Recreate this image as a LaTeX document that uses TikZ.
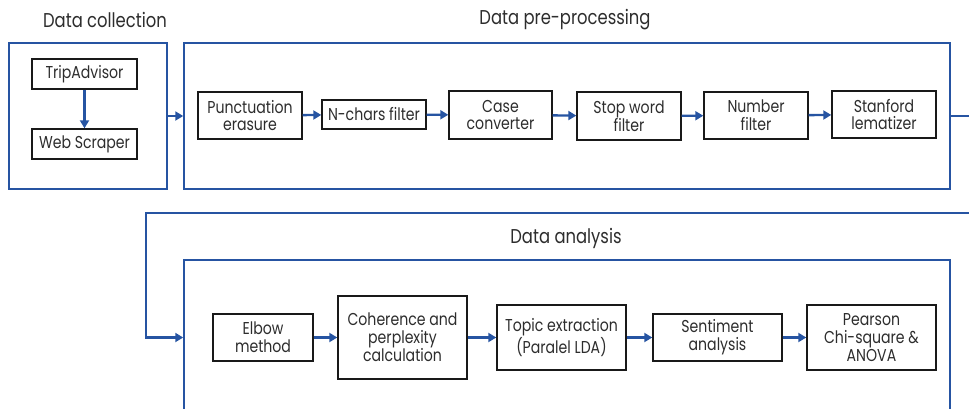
\documentclass[tikz,border=0pt]{standalone}
\usepackage{fontspec}
\setmainfont{Poppins}[FakeStretch=0.82]
\usetikzlibrary{arrows.meta}
\definecolor{lineblue}{RGB}{38,84,162}
\definecolor{textgrey}{RGB}{45,45,45}
\tikzset{
  box/.style={draw=black!90, line width=1.4pt, fill=white, align=center, inner sep=1pt,
    font=\fontsize{17.2}{17.8}\selectfont, text=textgrey},
  outer/.style={draw=lineblue, line width=1.5pt, inner sep=0pt},
  title/.style={font=\fontsize{20}{22}\selectfont, text=textgrey},
  flow/.style={draw=lineblue, line width=2.4pt, -{Triangle[length=8pt,width=9pt]}},
  link/.style={draw=lineblue, line width=2.4pt}
}
\begin{document}
\begin{tikzpicture}[x=1pt,y=-1pt]
\useasboundingbox (0,0) rectangle (969,408);
% outer boxes
\node[outer, minimum width=158pt, minimum height=146pt] (coll) at (88,116) {};
\node[outer, minimum width=766pt, minimum height=146pt] (pre) at (567,116) {};
\node[outer, minimum width=766pt, minimum height=170pt] (ana) at (567,345) {};
% titles
\node[title] (tcoll) at (105,20) {Data collection};
\node[title] (tpre) at (565,20) {Data pre-processing};
\node[title] (tana) at (566,238) {Data analysis};
% collection
\node[box, minimum width=105pt, minimum height=30pt] (trip) at (84.5,74) {TripAdvisor};
\node[box, minimum width=105pt, minimum height=30pt] (web) at (84.5,144) {Web Scraper};
% preprocessing
\node[box, minimum width=104pt, minimum height=47pt] (punct) at (250,115.5) {Punctuation\\erasure};
\node[box, minimum width=104pt, minimum height=29pt] (nchars) at (374,114.5) {N-chars filter};
\node[box, minimum width=103pt, minimum height=48pt] (case) at (500.5,115) {Case\\converter};
\node[box, minimum width=104pt, minimum height=48pt] (stop) at (629,116) {Stop word\\filter};
\node[box, minimum width=104pt, minimum height=47pt] (number) at (756,115.5) {Number\\filter};
\node[box, minimum width=104pt, minimum height=47pt] (stan) at (884,114.5) {Stanford\\lematizer};
% analysis
\node[box, minimum width=100pt, minimum height=47pt] (elbow) at (263,337.5) {Elbow\\method};
\node[box, minimum width=129pt, minimum height=83pt] (coh) at (402.5,337.5) {Coherence and\\perplexity\\calculation};
\node[box, minimum width=129pt, minimum height=65pt] (topic) at (561.5,337.5) {Topic extraction\\(Paralel LDA)};
\node[box, minimum width=129pt, minimum height=47pt] (sent) at (717.5,337.5) {Sentiment\\analysis};
\node[box, minimum width=129pt, minimum height=65pt] (pear) at (871.5,337.5) {Pearson\\Chi-square \&\\ANOVA};
% connectors
\draw[flow] (trip) -- (web);
\draw[flow] (coll.east) -- (pre.west);
\draw[flow] (punct) -- (nchars);
\draw[flow] (nchars) -- (case);
\draw[flow] (case) -- (stop);
\draw[flow] (stop) -- (number);
\draw[flow] (number) -- (stan);
\coordinate (r1) at (969,116);
\coordinate (r2) at (969,213);
\coordinate (l2) at (146,213);
\coordinate (l3) at (146,337.5);
\draw[link] (pre.east |- r1) -- (r1);
\draw[flow] (r2) -- (l2) -- (l3) -- (ana.west |- l3);
\draw[flow] (elbow) -- (coh);
\draw[flow] (coh) -- (topic);
\draw[flow] (topic) -- (sent);
\draw[flow] (sent) -- (pear);
\end{tikzpicture}
\end{document}
